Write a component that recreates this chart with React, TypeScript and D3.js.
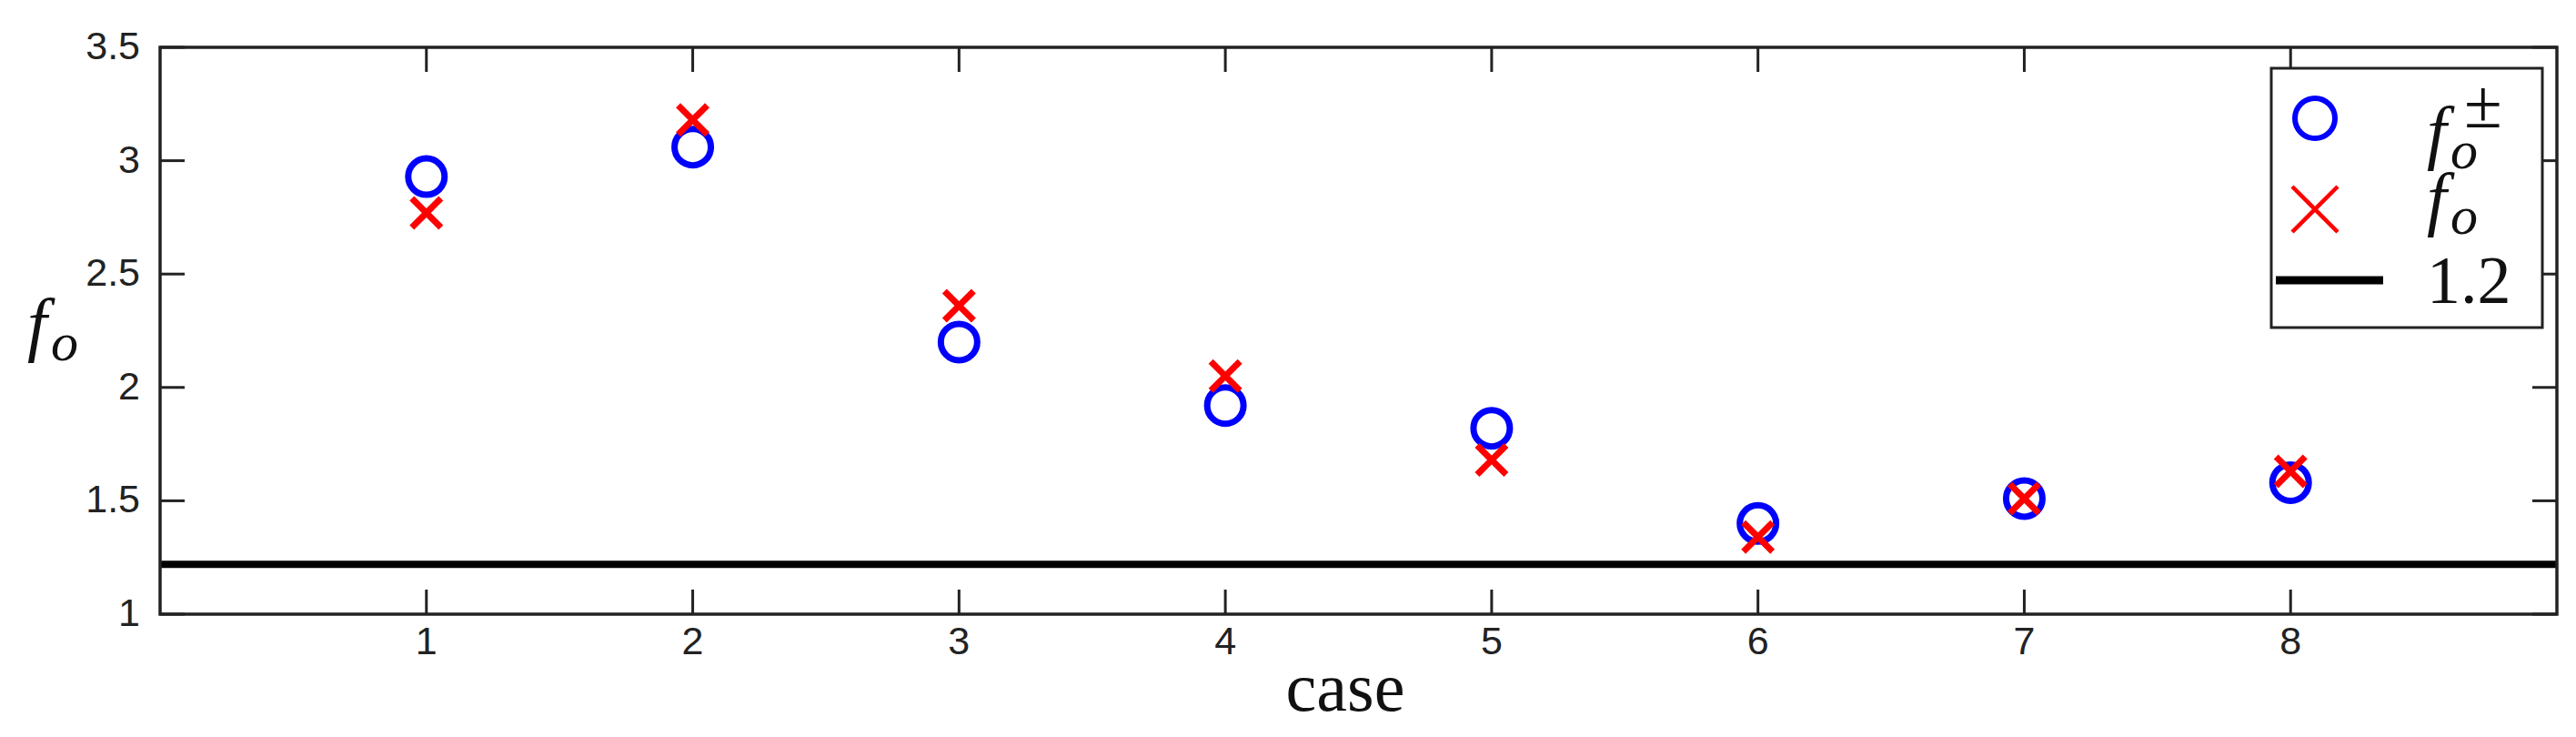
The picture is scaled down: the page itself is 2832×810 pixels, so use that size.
import React from "react";
import * as d3 from "d3";

const cases = [1, 2, 3, 4, 5, 6, 7, 8];
const fPlusMinus = [2.93, 3.06, 2.2, 1.92, 1.82, 1.4, 1.51, 1.58];
const fO = [2.77, 3.18, 2.36, 2.05, 1.68, 1.34, 1.51, 1.63];
const thresholdValue = 1.22;
const thresholdLabel = "1.2";
const xTicks = [1, 2, 3, 4, 5, 6, 7, 8];
const yTicks = [1, 1.5, 2, 2.5, 3, 3.5];

const W = 2832;
const H = 810;
const left = 176;
const right = 2811;
const top = 52;
const bottom = 675;

const BLUE = "#0000ff";
const RED = "#ff0000";
const AX = "#222222";

export default function App() {
  const x = d3.scaleLinear().domain([0, 9]).range([left, right]);
  const y = d3.scaleLinear().domain([1, 3.5]).range([bottom, top]);
  const tickLen = 27;
  const cr = 20;
  const ch = 16;

  const crossPath = (cx: number, cy: number, h: number) =>
    `M${cx - h},${cy - h}L${cx + h},${cy + h}M${cx - h},${cy + h}L${cx + h},${cy - h}`;

  return (
    <svg
      width={W}
      height={H}
      style={{ position: "absolute", left: 0, top: 0, display: "block", background: "#fff" }}
    >
      <rect x={0} y={0} width={W} height={H} fill="#fff" />

      {/* ticks */}
      {xTicks.map((t) => (
        <g key={"xt" + t}>
          <line x1={x(t)} x2={x(t)} y1={bottom} y2={bottom - tickLen} stroke={AX} strokeWidth={3} />
          <line x1={x(t)} x2={x(t)} y1={top} y2={top + tickLen} stroke={AX} strokeWidth={3} />
          <text
            x={x(t)}
            y={bottom + 44}
            textAnchor="middle"
            fontFamily="Liberation Sans, Arial, sans-serif"
            fontSize={43}
            fill={AX}
          >
            {d3.format("")(t)}
          </text>
        </g>
      ))}
      {yTicks.map((t) => (
        <g key={"yt" + t}>
          <line x1={left} x2={left + tickLen} y1={y(t)} y2={y(t)} stroke={AX} strokeWidth={3} />
          <line x1={right} x2={right - tickLen} y1={y(t)} y2={y(t)} stroke={AX} strokeWidth={3} />
          <text
            x={left - 22}
            y={y(t) + 13}
            textAnchor="end"
            fontFamily="Liberation Sans, Arial, sans-serif"
            fontSize={43}
            fill={AX}
          >
            {String(t)}
          </text>
        </g>
      ))}

      {/* threshold line */}
      <line
        x1={left}
        x2={right}
        y1={y(thresholdValue)}
        y2={y(thresholdValue)}
        stroke="#000"
        strokeWidth={8}
      />

      {/* markers */}
      {cases.map((c, i) => (
        <circle
          key={"c" + c}
          cx={x(c)}
          cy={y(fPlusMinus[i])}
          r={cr}
          fill="none"
          stroke={BLUE}
          strokeWidth={7}
        />
      ))}
      {cases.map((c, i) => (
        <path
          key={"x" + c}
          d={crossPath(x(c), y(fO[i]), ch)}
          stroke={RED}
          strokeWidth={7}
          fill="none"
        />
      ))}

      {/* frame */}
      <rect
        x={left}
        y={top}
        width={right - left}
        height={bottom - top}
        fill="none"
        stroke={AX}
        strokeWidth={3.5}
      />

      {/* axis labels */}
      <text
        x={1479}
        y={781}
        textAnchor="middle"
        fontFamily="Liberation Serif, Times New Roman, serif"
        fontSize={76}
        fill="#111"
      >
        case
      </text>
      <text fontFamily="Liberation Serif, Times New Roman, serif" fontStyle="italic" fill="#111">
        <tspan x={30} y={382} fontSize={78}>f</tspan>
        <tspan x={56} y={396} fontSize={60}>o</tspan>
      </text>

      {/* legend */}
      <rect x={2497} y={75} width={298} height={285} fill="#fff" stroke={AX} strokeWidth={3} />
      <circle cx={2545} cy={130} r={22} fill="none" stroke={BLUE} strokeWidth={6} />
      <path d={crossPath(2545, 230, 25)} stroke={RED} strokeWidth={4.5} fill="none" />
      <line x1={2502} x2={2620} y1={308} y2={308} stroke="#000" strokeWidth={9} />

      <text fontFamily="Liberation Serif, Times New Roman, serif" fill="#111">
        <tspan x={2668} y={171} fontSize={78} fontStyle="italic">f</tspan>
        <tspan x={2694} y={185} fontSize={60} fontStyle="italic">o</tspan>
        <tspan x={2709} y={140} fontSize={76}>±</tspan>
      </text>
      <text fontFamily="Liberation Serif, Times New Roman, serif" fontStyle="italic" fill="#111">
        <tspan x={2668} y={244} fontSize={78}>f</tspan>
        <tspan x={2694} y={257} fontSize={60}>o</tspan>
      </text>
      <text
        x={2668}
        y={333}
        fontFamily="Liberation Serif, Times New Roman, serif"
        fontSize={74}
        fill="#111"
      >
        {thresholdLabel}
      </text>
    </svg>
  );
}
